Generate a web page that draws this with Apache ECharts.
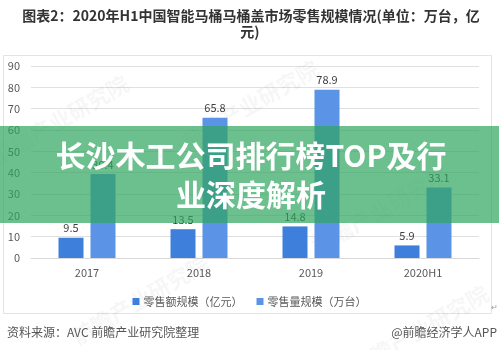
<!DOCTYPE html>
<html>
<head>
<meta charset="utf-8">
<script src="https://cdn.jsdelivr.net/npm/echarts@6/dist/echarts.min.js"></script>
<style>
  html, body { margin: 0; padding: 0; background: #fff; }
  #chart { width: 499px; height: 350px; }
</style>
</head>
<body>
<div id="chart"></div>
<script>
// Retail scale of smart toilets & toilet seats in China
const years = ['2017', '2018', '2019', '2020H1'];
const retailValue = [9.5, 13.5, 14.8, 5.9];      // 亿元
const retailVolume = [39.4, 65.8, 78.9, 33.1];   // 万台
const seriesNames = ['零售额规模（亿元）', '零售量规模（万台）'];
const yTicks = { min: 0, max: 90, step: 10 };

const FONT = '"Noto Sans CJK SC", "Noto Sans", sans-serif';

const chart = echarts.init(document.getElementById('chart'), null, { renderer: 'canvas' });

// faint diagonal watermark stamps
const stamps = [[60, 120], [250, 105], [380, 210], [140, 300], [420, 330]].map(([x, y]) => ({
  type: 'text', x, y, rotation: Math.PI / 6, z: 1, silent: true,
  style: { text: '前瞻产业研究院', fill: 'rgba(0,0,0,0.035)', font: 'bold 22px ' + FONT, textAlign: 'center', textVerticalAlign: 'middle' }
}));

chart.setOption({
  animation: false,
  textStyle: { fontFamily: FONT },
  grid: { left: 31, right: 20, top: 66, bottom: 92 },
  legend: {
    data: seriesNames,
    left: 'center',
    top: 291,
    icon: 'rect',
    itemWidth: 7,
    itemHeight: 7,
    itemGap: 14,
    textStyle: { fontSize: 11, color: '#595959', padding: [0, 0, 0, -1] }
  },
  xAxis: {
    type: 'category',
    data: years,
    axisLine: { lineStyle: { color: '#d9d9d9' } },
    axisTick: { show: false },
    axisLabel: { color: '#595959', fontSize: 11, margin: 9 }
  },
  yAxis: {
    type: 'value',
    min: yTicks.min,
    max: yTicks.max,
    interval: yTicks.step,
    axisLine: { show: false },
    axisTick: { show: false },
    axisLabel: { color: '#595959', fontSize: 11, margin: 11 },
    splitLine: { lineStyle: { color: '#e0e0e0' } }
  },
  series: [
    {
      name: seriesNames[0], type: 'bar', data: retailValue,
      barWidth: 25, barGap: '28%',
      itemStyle: { color: '#3f7fdc' },
      label: { show: true, position: 'top', color: '#404040', fontSize: 11, distance: 4 }
    },
    {
      name: seriesNames[1], type: 'bar', data: retailVolume,
      barWidth: 25,
      itemStyle: { color: '#5b93e6' },
      label: { show: true, position: 'top', color: '#404040', fontSize: 11, distance: 4 }
    }
  ],
  graphic: [
    // heading
    { type: 'text', x: 251, y: 16, z: 10,
      style: { text: '图表2：2020年H1中国智能马桶马桶盖市场零售规模情况(单位：万台，亿', fill: '#333', font: 'bold 14px ' + FONT, textAlign: 'center', textVerticalAlign: 'middle' } },
    { type: 'text', x: 250, y: 32, z: 10,
      style: { text: '元)', fill: '#333', font: 'bold 14px ' + FONT, textAlign: 'center', textVerticalAlign: 'middle' } },
    // chart frame
    { type: 'rect', z: 0, silent: true,
      shape: { x: 3.5, y: 55.5, width: 488, height: 258 },
      style: { fill: 'none', stroke: '#e3e3e3', lineWidth: 1 } },
    { type: 'text', x: 494, y: 307, z: 10,
      style: { text: '↵', fill: '#999', font: '8px ' + FONT, textAlign: 'center', textVerticalAlign: 'middle' } },
    ...stamps,
    // source line
    { type: 'text', x: 7, y: 332, z: 10,
      style: { text: '资料来源：AVC 前瞻产业研究院整理', fill: '#555', font: '12px ' + FONT, textVerticalAlign: 'middle' } },
    { type: 'text', x: 497, y: 332, z: 10,
      style: { text: '@前瞻经济学人APP', fill: '#555', font: '12px ' + FONT, textAlign: 'right', textVerticalAlign: 'middle' } },
    // banner
    { type: 'rect', z: 100, silent: true,
      shape: { x: 0, y: 126, width: 499, height: 97 },
      style: { fill: 'rgba(45,165,94,0.7)' } },
    { type: 'text', x: 251, y: 156, z: 101,
      style: { text: '长沙木工公司排行榜TOP及行', fill: '#fff', font: 'bold 30px ' + FONT, textAlign: 'center', textVerticalAlign: 'middle' } },
    { type: 'text', x: 251, y: 195, z: 101,
      style: { text: '业深度解析', fill: '#fff', font: 'bold 30px ' + FONT, textAlign: 'center', textVerticalAlign: 'middle' } }
  ]
});
</script>
</body>
</html>
